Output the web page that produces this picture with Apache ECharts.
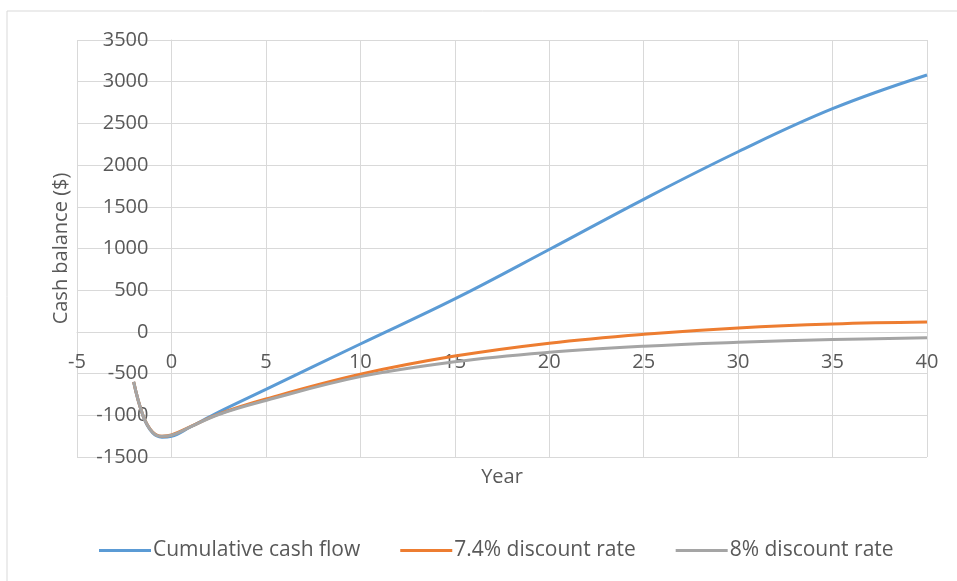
<!DOCTYPE html>
<html>
<head>
<meta charset="utf-8">
<script src="https://cdn.jsdelivr.net/npm/echarts@6/dist/echarts.min.js"></script>
<style>
  html, body { margin: 0; padding: 0; background: #fff; }
  #main { width: 957px; height: 581px; }
</style>
</head>
<body>
<div id="main"></div>
<script>
// years
var years = [-2, -1.5, -1, -0.5, 0, 1, 2.5, 5, 10, 15, 20, 25, 30, 35, 40];
var cumulative = [-600, -1010, -1210, -1262, -1252, -1140, -962, -690, -145, 395, 988, 1590, 2160, 2676, 3080];
var rate74 = [-600, -1005, -1200, -1250, -1236, -1136, -985, -805, -508, -290, -135, -28, 48, 95, 118];
var rate8 = [-600, -1005, -1203, -1252, -1240, -1140, -990, -822, -536, -358, -245, -172, -125, -92, -70];
var seriesNames = ['Cumulative cash flow', '7.4% discount rate', '8% discount rate'];
var colors = ['#5B9BD5', '#ED7D31', '#A5A5A5'];

function pairs(ys) {
    var out = [];
    for (var i = 0; i < years.length; i++) {
        out.push([years[i], ys[i]]);
    }
    return out;
}

var font = '"Open Sans", sans-serif';
var textColor = '#595959';
var gridColor = '#d9d9d9';

// plot box (px) - axes cross at zero, so shift them in with offset
var gridLeft = 77, gridRight = 30, gridTop = 40, gridBottom = 124;
var plotW = 957 - gridLeft - gridRight;
var plotH = 581 - gridTop - gridBottom;
var xMin = -5, xMax = 40, yMin = -1500, yMax = 3500;
var yAxisShift = -(0 - xMin) / (xMax - xMin) * plotW;
var xAxisShift = -(0 - yMin) / (yMax - yMin) * plotH;

var myecharts = echarts.init(document.getElementById('main'));
var option = {
    animation: false,
    color: colors,
    graphic: [{
        type: 'rect',
        shape: { x: 7, y: 11, width: 1000, height: 1000 },
        style: { fill: 'none', stroke: gridColor, lineWidth: 1 },
        silent: true
    }],
    grid: {
        left: gridLeft,
        right: gridRight,
        top: gridTop,
        bottom: gridBottom,
        containLabel: false,
        outerBoundsMode: 'none'
    },
    legend: {
        data: seriesNames,
        left: 94,
        top: 535,
        icon: 'rect',
        itemWidth: 52,
        itemHeight: 3,
        itemGap: 40,
        textStyle: {
            fontFamily: font,
            fontSize: 21,
            color: textColor,
            padding: [0, 0, 0, -3]
        }
    },
    xAxis: {
        type: 'value',
        min: xMin,
        max: xMax,
        interval: 5,
        offset: xAxisShift,
        name: 'Year',
        nameLocation: 'middle',
        nameGap: 135,
        nameTextStyle: { fontFamily: font, fontSize: 20, color: textColor },
        axisLine: { onZero: false, lineStyle: { color: gridColor } },
        axisTick: { show: false },
        axisLabel: {
            fontFamily: font, fontSize: 20, color: textColor, margin: 20,
            formatter: function (v) { return String(v); }
        },
        splitLine: { show: true, lineStyle: { color: gridColor } }
    },
    yAxis: {
        type: 'value',
        min: yMin,
        max: yMax,
        interval: 500,
        offset: yAxisShift,
        name: 'Cash balance ($)',
        nameLocation: 'middle',
        nameGap: 100,
        nameTextStyle: { fontFamily: font, fontSize: 20, color: textColor },
        axisLine: { onZero: false, lineStyle: { color: gridColor } },
        axisTick: { show: false },
        axisLabel: {
            fontFamily: font, fontSize: 20, color: textColor, margin: 23,
            formatter: function (v) { return String(v); }
        },
        splitLine: { show: true, lineStyle: { color: gridColor } }
    },
    series: [{
        name: seriesNames[0],
        type: 'line',
        smooth: 0.4,
        showSymbol: false,
        lineStyle: { width: 3 },
        data: pairs(cumulative)
    }, {
        name: seriesNames[1],
        type: 'line',
        smooth: 0.4,
        showSymbol: false,
        lineStyle: { width: 3 },
        data: pairs(rate74)
    }, {
        name: seriesNames[2],
        type: 'line',
        smooth: 0.4,
        showSymbol: false,
        lineStyle: { width: 3 },
        data: pairs(rate8)
    }]
};
myecharts.setOption(option);
</script>
</body>
</html>
